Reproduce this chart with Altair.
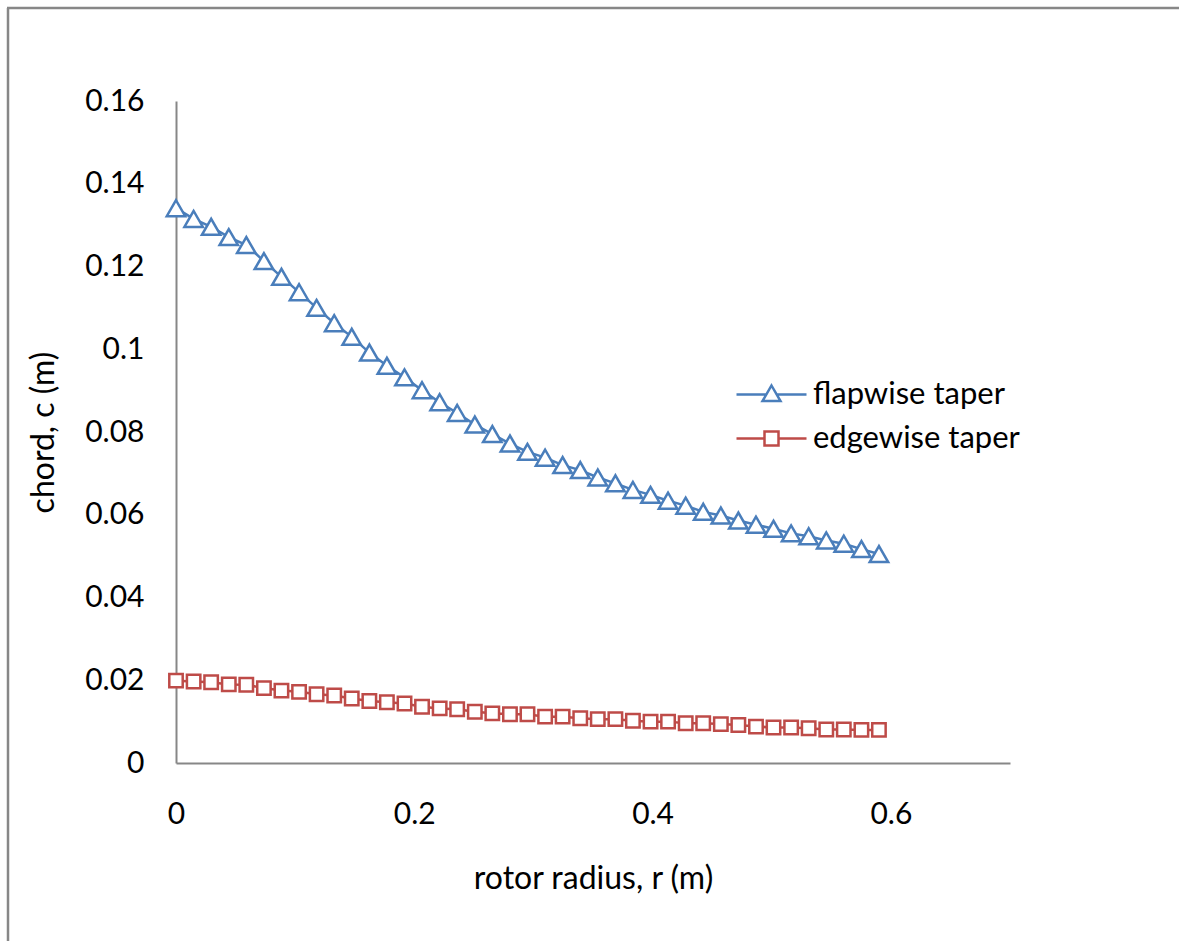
import altair as alt
import pandas as pd

# ---- data ----
radius = [0, 0.0148, 0.0295, 0.0443, 0.059, 0.0738, 0.0885, 0.1033, 0.118, 0.1328,
          0.1475, 0.1623, 0.177, 0.1918, 0.2065, 0.2213, 0.236, 0.2508, 0.2655, 0.2803,
          0.295, 0.3098, 0.3245, 0.3393, 0.354, 0.3688, 0.3835, 0.3983, 0.413, 0.4278,
          0.4425, 0.4573, 0.472, 0.4868, 0.5015, 0.5163, 0.531, 0.5458, 0.5605, 0.5753, 0.59]

flapwise = [0.1341, 0.1315, 0.1296, 0.1271, 0.1252, 0.1213, 0.1175, 0.1138, 0.1100, 0.1063,
            0.1030, 0.0992, 0.0960, 0.0932, 0.0901, 0.0872, 0.0846, 0.0818, 0.0795, 0.0772,
            0.0752, 0.0738, 0.0720, 0.0708, 0.0690, 0.0676, 0.0660, 0.0648, 0.0634, 0.0622,
            0.0607, 0.0598, 0.0586, 0.0576, 0.0566, 0.0555, 0.0548, 0.0538, 0.0530, 0.0517, 0.0505]

edgewise = [0.0199, 0.0197, 0.0195, 0.0190, 0.0189, 0.0181, 0.0175, 0.0172, 0.0166, 0.0163,
            0.0156, 0.0150, 0.0147, 0.0144, 0.0136, 0.0132, 0.0130, 0.0124, 0.0120, 0.0118,
            0.0118, 0.0112, 0.0112, 0.0108, 0.0106, 0.0106, 0.0102, 0.0100, 0.0100, 0.0096,
            0.0096, 0.0094, 0.0092, 0.0088, 0.0086, 0.0086, 0.0084, 0.0081, 0.0081, 0.0080, 0.0080]

series_names = ["flapwise taper", "edgewise taper"]
series_colors = ["#4A7EBB", "#BE4B48"]
x_ticks = [0, 0.2, 0.4, 0.6]
y_ticks = [0, 0.02, 0.04, 0.06, 0.08, 0.1, 0.12, 0.14, 0.16]

df = pd.DataFrame({
    "r": radius + radius,
    "c": flapwise + edgewise,
    "series": [series_names[0]] * len(radius) + [series_names[1]] * len(radius),
})

W, H = 834, 662
FONT = "Lato"
GRAY = "#878787"

x_enc = alt.X("r:Q", scale=alt.Scale(domain=[0, 0.7], nice=False, zero=False),
              axis=alt.Axis(values=x_ticks, format="~g", title="rotor radius, r (m)",
                            labelPadding=36, titlePadding=34, labelFlush=False))
y_enc = alt.Y("c:Q", scale=alt.Scale(domain=[0, 0.16], nice=False),
              axis=alt.Axis(values=y_ticks, format="~g", title="chord, c (m)",
                            labelPadding=32, titlePadding=24, labelFlush=False))

base = alt.Chart(df)
layers = []
shapes = ["triangle-up", "square"]
sizes = [340, 180]
for name, col, shp, sz in zip(series_names, series_colors, shapes, sizes):
    sub = base.transform_filter(alt.datum.series == name)
    layers.append(sub.mark_line(strokeWidth=2.5, color=col).encode(x=x_enc, y=y_enc))
    layers.append(sub.mark_point(shape=shp, size=sz, filled=True, fill="white",
                                 stroke=col, strokeWidth=2.5, opacity=1)
                  .encode(x=x_enc, y=y_enc))

# legend symbols: line + marker (custom paths, unit = 20 px)
tri_path = "M-1.75,0H-0.26M0.26,0H1.75M0,-0.45L0.45,0.33L-0.45,0.33Z"
sq_path = "M-1.75,0H-0.35M0.35,0H1.75M-0.35,-0.35H0.35V0.35H-0.35Z"

legend_def = alt.Legend(title=None, orient="none", legendX=574, legendY=272,
                        symbolSize=1600, symbolStrokeWidth=2.5, labelOffset=20,
                        rowPadding=7, padding=0, labelFont=FONT, labelFontSize=31,
                        labelColor="black", symbolFillColor="white", symbolOpacity=1,
                        labelLimit=1000)

legend_layer = base.transform_filter("false").mark_point(filled=False, strokeWidth=2.5, opacity=1).encode(
    x=x_enc, y=y_enc,
    color=alt.Color("series:N", scale=alt.Scale(domain=series_names, range=series_colors),
                    legend=legend_def),
    shape=alt.Shape("series:N", scale=alt.Scale(domain=series_names, range=[tri_path, sq_path]),
                    legend=legend_def),
)

frame_src = alt.Chart(pd.DataFrame({"k": [0]}))
frame_left = frame_src.mark_rule(color=GRAY, strokeWidth=2.5).encode(
    x=alt.value(-168), y=alt.value(-93), y2=alt.value(845))
frame_top = frame_src.mark_rule(color=GRAY, strokeWidth=2.5).encode(
    x=alt.value(-169), x2=alt.value(1010), y=alt.value(-93))

chart = alt.layer(frame_left, frame_top, *layers, legend_layer).properties(
    width=W, height=H,
    background="white",
    autosize=alt.AutoSizeParams(type="none"),
    padding={"left": 176, "top": 101, "right": 169, "bottom": 178},
).configure_view(stroke=None).configure_axis(
    domainColor=GRAY, domainWidth=2, ticks=False, grid=False,
    labelFont=FONT, labelFontSize=30, labelColor="black",
    titleFont=FONT, titleFontSize=32, titleFontWeight="normal", titleColor="black",
)

chart.save("out.html", embed_options={"renderer": "svg", "actions": False})
